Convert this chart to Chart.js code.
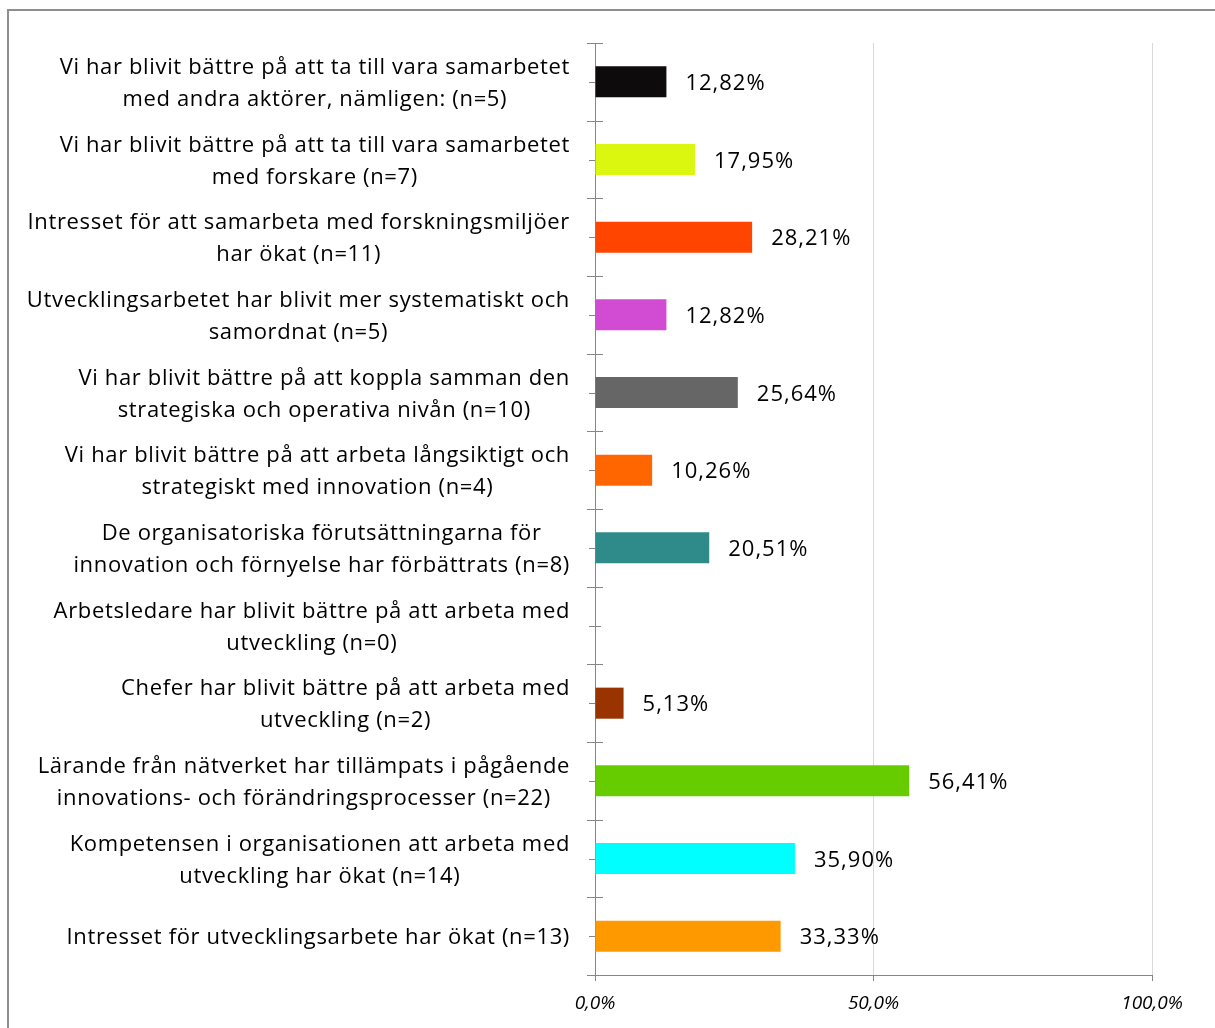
<!DOCTYPE html>
<html>
<head>
<meta charset="utf-8">
<script src="https://cdn.jsdelivr.net/npm/chart.js@4/dist/chart.umd.min.js"></script>
<style>
  html, body { margin: 0; padding: 0; background: #fff; overflow: hidden; }
  #wrap { position: relative; width: 1215px; height: 1028px; }
  #wrap canvas { position: absolute; left: 0; top: 0; }
  /* frame of the chart box: only top and left edges fall inside the page */
  #frame {
    position: absolute; left: 7px; top: 9px; right: -10px; bottom: -10px;
    border-top: 2px solid #8e8e8e; border-left: 2px solid #8e8e8e;
    pointer-events: none;
  }
</style>
</head>
<body>
<div id="wrap">
  <canvas id="c" width="1215" height="1028"></canvas>
  <div id="frame"></div>
</div>
<script>
// Categories (one array of lines per bar), top to bottom
const categories = [
  ["Vi har blivit bättre på att ta till vara samarbetet", "med andra aktörer, nämligen: (n=5)"],
  ["Vi har blivit bättre på att ta till vara samarbetet", "med forskare (n=7)"],
  ["Intresset för att samarbeta med forskningsmiljöer", "har ökat (n=11)"],
  ["Utvecklingsarbetet har blivit mer systematiskt och", "samordnat (n=5)"],
  ["Vi har blivit bättre på att koppla samman den", "strategiska och operativa nivån (n=10)"],
  ["Vi har blivit bättre på att arbeta långsiktigt och", "strategiskt med innovation (n=4)"],
  ["De organisatoriska förutsättningarna för", "innovation och förnyelse har förbättrats (n=8)"],
  ["Arbetsledare har blivit bättre på att arbeta med", "utveckling (n=0)"],
  ["Chefer har blivit bättre på att arbeta med", "utveckling (n=2)"],
  ["Lärande från nätverket har tillämpats i pågående", "innovations- och förändringsprocesser (n=22)"],
  ["Kompetensen i organisationen att arbeta med", "utveckling har ökat (n=14)"],
  ["Intresset för utvecklingsarbete har ökat (n=13)"]
];

// Share of respondents, percent
const values = [12.82, 17.95, 28.21, 12.82, 25.64, 10.26, 20.51, 0, 5.13, 56.41, 35.90, 33.33];

const barColors = [
  "#0e0b0c", "#dcf70f", "#ff4500", "#d14bd3", "#666666", "#ff6600",
  "#2e8b89", "#999999", "#993300", "#66cc00", "#00ffff", "#ff9900"
];

const xTicks = [0, 50, 100];

const FONT = "'Open Sans', Lato, sans-serif";
const LABEL_SIZE = 22;
const LINE_H = 32;
const LABEL_RIGHT = 570;
const AXIS_GRAY = "#868686";

const pct = (v, d) => v.toFixed(d).replace(".", ",") + "%";

// Category text: lines centred on each other, block right-aligned to the axis
const categoryLabels = {
  id: "categoryLabels",
  afterDraw(chart) {
    const { ctx, scales: { y } } = chart;
    ctx.save();
    ctx.font = `${LABEL_SIZE}px ${FONT}`;
    ctx.letterSpacing = "0.65px";
    ctx.fillStyle = "#000";
    ctx.textAlign = "center";
    ctx.textBaseline = "middle";
    categories.forEach((lines, i) => {
      const cy = y.getPixelForValue(i) + 2;
      const w = Math.max(...lines.map((l) => ctx.measureText(l).width));
      const cx = LABEL_RIGHT - w / 2;
      lines.forEach((l, j) => {
        ctx.fillText(l, cx, cy + (j - (lines.length - 1) / 2) * LINE_H);
      });
    });
    ctx.restore();
  }
};

// Tick marks crossing the category axis: long at band edges, short at centres
const categoryTicks = {
  id: "categoryTicks",
  beforeDatasetsDraw(chart) {
    const { ctx, scales: { y }, chartArea } = chart;
    const x0 = chartArea.left;
    const half = (y.getPixelForValue(1) - y.getPixelForValue(0)) / 2;
    ctx.save();
    ctx.strokeStyle = AXIS_GRAY;
    ctx.lineWidth = 1;
    ctx.beginPath();
    for (let i = 0; i < categories.length; i++) {
      const cy = Math.round(y.getPixelForValue(i)) + 0.5;
      ctx.moveTo(x0 - 6, cy); ctx.lineTo(x0 + 6, cy);
      const top = Math.round(y.getPixelForValue(i) - half) + 0.5;
      ctx.moveTo(x0 - 8, top); ctx.lineTo(x0 + 8, top);
    }
    const bottom = Math.round(y.getPixelForValue(categories.length - 1) + half) + 0.5;
    ctx.moveTo(x0 - 8, bottom); ctx.lineTo(x0 + 8, bottom);
    ctx.stroke();
    ctx.restore();
  }
};

// Value text to the right of each bar
const valueLabels = {
  id: "valueLabels",
  afterDatasetsDraw(chart) {
    const { ctx } = chart;
    const meta = chart.getDatasetMeta(0);
    ctx.save();
    ctx.font = `${LABEL_SIZE}px ${FONT}`;
    ctx.letterSpacing = "1px";
    ctx.fillStyle = "#000";
    ctx.textAlign = "left";
    ctx.textBaseline = "middle";
    meta.data.forEach((bar, i) => {
      if (!values[i]) return;
      ctx.fillText(pct(values[i], 2), bar.x + 19, bar.y + 2);
    });
    ctx.restore();
  }
};

new Chart(document.getElementById("c"), {
  type: "bar",
  data: {
    labels: categories,
    datasets: [{
      data: values,
      backgroundColor: barColors,
      borderWidth: 0,
      barPercentage: 0.4,
      categoryPercentage: 1.0
    }]
  },
  options: {
    indexAxis: "y",
    responsive: false,
    animation: false,
    events: [],
    layout: { padding: { top: 43, right: 63, left: 0, bottom: 0 } },
    plugins: { legend: { display: false }, tooltip: { enabled: false } },
    scales: {
      x: {
        min: 0,
        max: 100,
        afterBuildTicks: (s) => { s.ticks = xTicks.map((v) => ({ value: v })); },
        afterFit: (s) => { s.height = 53; },
        ticks: {
          callback: (v) => pct(v, 1),
          color: "#000",
          font: { family: FONT, size: 19, style: "italic" },
          padding: 11,
          maxRotation: 0
        },
        grid: {
          color: (c) => (c.index === 0 ? "rgba(0,0,0,0)" : "#d9d9d9"),
          tickColor: AXIS_GRAY,
          tickLength: 6
        },
        border: { color: AXIS_GRAY }
      },
      y: {
        afterFit: (s) => { s.width = 595; },
        ticks: { display: false },
        grid: { display: false },
        border: { color: AXIS_GRAY }
      }
    }
  },
  plugins: [categoryTicks, valueLabels, categoryLabels]
});
</script>
</body>
</html>
